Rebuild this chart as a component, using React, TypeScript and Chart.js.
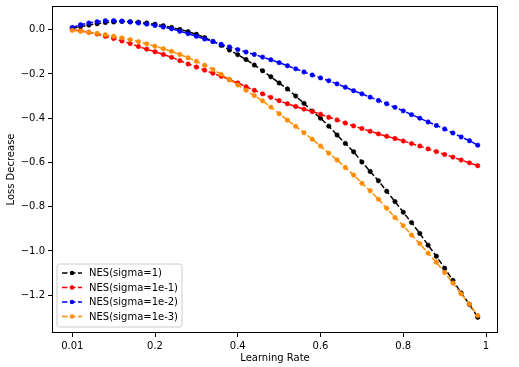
import React, { useEffect, useRef } from 'react';
import { Chart, registerables } from 'chart.js';

Chart.register(...registerables);

const learningRates = [
  0.0, 0.02, 0.04, 0.06, 0.08, 0.1, 0.12, 0.14, 0.16, 0.18,
  0.2, 0.22, 0.24, 0.26, 0.28, 0.3, 0.32, 0.34, 0.36, 0.38,
  0.4, 0.42, 0.44, 0.46, 0.48, 0.5, 0.52, 0.54, 0.56, 0.58,
  0.6, 0.62, 0.64, 0.66, 0.68, 0.7, 0.72, 0.74, 0.76, 0.78,
  0.8, 0.82, 0.84, 0.86, 0.88, 0.9, 0.92, 0.94, 0.96, 0.98,
];

const nesSigma1 = [
  0.006, 0.014, 0.021, 0.027, 0.032, 0.035, 0.037, 0.036, 0.034, 0.030,
  0.025, 0.018, 0.010, 0.001, -0.009, -0.021, -0.036, -0.053, -0.071, -0.092,
  -0.113, -0.135, -0.160, -0.186, -0.213, -0.241, -0.268, -0.300, -0.333, -0.368,
  -0.400, -0.436, -0.476, -0.514, -0.552, -0.598, -0.641, -0.683, -0.730, -0.777,
  -0.825, -0.872, -0.921, -0.974, -1.024, -1.078, -1.133, -1.190, -1.242, -1.300,
];

const nesSigma1em1 = [
  0.000, -0.005, -0.012, -0.020, -0.030, -0.040, -0.051, -0.063, -0.076, -0.088,
  -0.100, -0.112, -0.125, -0.140, -0.155, -0.169, -0.183, -0.197, -0.211, -0.226,
  -0.241, -0.258, -0.274, -0.290, -0.306, -0.321, -0.335, -0.347, -0.359, -0.370,
  -0.382, -0.396, -0.408, -0.422, -0.435, -0.447, -0.459, -0.471, -0.482, -0.492,
  -0.503, -0.515, -0.526, -0.539, -0.551, -0.564, -0.576, -0.589, -0.602, -0.615,
];

const nesSigma1em2 = [
  0.010, 0.022, 0.030, 0.036, 0.040, 0.041, 0.039, 0.035, 0.030, 0.025,
  0.019, 0.012, 0.004, -0.007, -0.018, -0.030, -0.042, -0.054, -0.066, -0.078,
  -0.090, -0.101, -0.112, -0.124, -0.136, -0.149, -0.163, -0.177, -0.191, -0.205,
  -0.218, -0.231, -0.245, -0.260, -0.276, -0.290, -0.305, -0.320, -0.335, -0.351,
  -0.367, -0.384, -0.400, -0.417, -0.433, -0.449, -0.467, -0.485, -0.502, -0.522,
];

const nesSigma1em3 = [
  -0.003, -0.007, -0.012, -0.017, -0.023, -0.030, -0.037, -0.045, -0.054, -0.064,
  -0.075, -0.086, -0.098, -0.112, -0.127, -0.143, -0.161, -0.180, -0.202, -0.226,
  -0.250, -0.274, -0.298, -0.322, -0.350, -0.380, -0.409, -0.437, -0.466, -0.495,
  -0.526, -0.558, -0.589, -0.623, -0.657, -0.694, -0.728, -0.766, -0.807, -0.849,
  -0.886, -0.928, -0.967, -1.010, -1.051, -1.098, -1.145, -1.194, -1.241, -1.292,
];

const seriesLabels = ['NES(sigma=1)', 'NES(sigma=1e-1)', 'NES(sigma=1e-2)', 'NES(sigma=1e-3)'];
const seriesValues = [nesSigma1, nesSigma1em1, nesSigma1em2, nesSigma1em3];
const seriesColors = ['#000000', '#ff0000', '#0000ff', '#ff8c00'];

const xTickValues = [0, 0.2, 0.4, 0.6, 0.8, 1.0];
const xTickLabels = ['0.01', '0.2', '0.4', '0.6', '0.8', '1'];
const yTickValues = [0, -0.2, -0.4, -0.6, -0.8, -1.0, -1.2];

const FONT = "'DejaVu Sans', sans-serif";
const DASH = [5.55, 2.4];

const framePlugin = {
  id: 'mplFrame',
  afterDraw(chart: any) {
    const { ctx, chartArea } = chart;
    const l = Math.round(chartArea.left) + 0.5;
    const t = Math.round(chartArea.top) + 0.5;
    const r = Math.round(chartArea.right) - 0.5;
    const b = Math.round(chartArea.bottom) - 0.5;
    ctx.save();
    ctx.strokeStyle = '#000';
    ctx.lineWidth = 1;
    ctx.setLineDash([]);
    ctx.strokeRect(l, t, r - l, b - t);
    ctx.restore();
  },
};

const legendPlugin = {
  id: 'mplLegend',
  afterDraw(chart: any) {
    const { ctx, chartArea } = chart;
    const x0 = chartArea.left + 5;
    const w = 125;
    const h = 63;
    const y0 = chartArea.bottom - 6 - h;
    ctx.save();
    ctx.beginPath();
    const rad = 2.5;
    ctx.moveTo(x0 + rad, y0);
    ctx.lineTo(x0 + w - rad, y0);
    ctx.quadraticCurveTo(x0 + w, y0, x0 + w, y0 + rad);
    ctx.lineTo(x0 + w, y0 + h - rad);
    ctx.quadraticCurveTo(x0 + w, y0 + h, x0 + w - rad, y0 + h);
    ctx.lineTo(x0 + rad, y0 + h);
    ctx.quadraticCurveTo(x0, y0 + h, x0, y0 + h - rad);
    ctx.lineTo(x0, y0 + rad);
    ctx.quadraticCurveTo(x0, y0, x0 + rad, y0);
    ctx.closePath();
    ctx.fillStyle = 'rgba(255,255,255,0.8)';
    ctx.fill();
    ctx.strokeStyle = '#cccccc';
    ctx.lineWidth = 1;
    ctx.stroke();

    ctx.font = `10px ${FONT}`;
    ctx.textBaseline = 'middle';
    ctx.textAlign = 'left';
    seriesLabels.forEach((label, i) => {
      const cy = y0 + 9 + i * 14.5;
      const color = seriesColors[i];
      ctx.strokeStyle = color;
      ctx.lineWidth = 1.5;
      ctx.setLineDash(DASH);
      ctx.beginPath();
      ctx.moveTo(x0 + 5, cy);
      ctx.lineTo(x0 + 25, cy);
      ctx.stroke();
      ctx.setLineDash([]);
      ctx.fillStyle = color;
      ctx.beginPath();
      ctx.arc(x0 + 15, cy, 2.2, 0, Math.PI * 2);
      ctx.fill();
      ctx.fillStyle = '#000';
      ctx.fillText(label, x0 + 32, cy + 0.5);
    });
    ctx.restore();
  },
};

export default function App() {
  const canvasRef = useRef<HTMLCanvasElement | null>(null);

  useEffect(() => {
    if (!canvasRef.current) return;
    Chart.defaults.font.family = FONT;
    const datasets = seriesLabels.map((label, i) => ({
      label,
      data: learningRates.map((x, j) => ({ x, y: seriesValues[i][j] })),
      borderColor: seriesColors[i],
      backgroundColor: seriesColors[i],
      pointBackgroundColor: seriesColors[i],
      pointBorderColor: seriesColors[i],
      pointBorderWidth: 0.6,
      pointRadius: 2.2,
      borderWidth: 1.5,
      borderDash: DASH,
      tension: 0,
      fill: false,
      order: seriesLabels.length - i,
    }));

    const chart = new Chart(canvasRef.current, {
      type: 'line',
      data: { datasets },
      plugins: [framePlugin, legendPlugin],
      options: {
        animation: false,
        responsive: false,
        maintainAspectRatio: false,
        devicePixelRatio: 1,
        layout: { padding: { left: 0, right: 21, top: 6, bottom: 0 } },
        plugins: {
          legend: { display: false },
          tooltip: { enabled: false },
        },
        scales: {
          x: {
            type: 'linear',
            min: -0.049,
            max: 1.029,
            afterBuildTicks: (s: any) => {
              s.ticks = xTickValues.map((v) => ({ value: v }));
            },
            afterFit: (s: any) => {
              s.height = 34;
              s.paddingLeft = 0;
              s.paddingRight = 0;
            },
            ticks: {
              autoSkip: false,
              maxRotation: 0,
              padding: 3,
              color: '#000',
              font: { size: 10, family: FONT },
              callback: (v: any) => {
                const idx = xTickValues.findIndex((t) => Math.abs(t - Number(v)) < 1e-9);
                return idx >= 0 ? xTickLabels[idx] : '';
              },
            },
            grid: {
              drawOnChartArea: false,
              drawTicks: true,
              tickLength: 4,
              color: '#000',
              lineWidth: 1,
            },
            border: { display: false },
            title: {
              display: true,
              text: 'Learning Rate',
              color: '#000',
              font: { size: 10, family: FONT },
              padding: { top: 0, bottom: 3 },
            },
          },
          y: {
            type: 'linear',
            min: -1.371,
            max: 0.107,
            afterBuildTicks: (s: any) => {
              s.ticks = yTickValues.map((v) => ({ value: v }));
            },
            afterFit: (s: any) => {
              s.width = 52;
              s.paddingTop = 0;
              s.paddingBottom = 0;
            },
            ticks: {
              autoSkip: false,
              padding: 3,
              color: '#000',
              font: { size: 10, family: FONT },
              callback: (v: any) => {
                const n = Number(v);
                if (Math.abs(n) < 1e-9) return '0.0';
                return (n < 0 ? '\u2212' : '') + Math.abs(n).toFixed(1);
              },
            },
            grid: {
              drawOnChartArea: false,
              drawTicks: true,
              tickLength: 4,
              color: '#000',
              lineWidth: 1,
            },
            border: { display: false },
            title: {
              display: true,
              text: 'Loss Decrease',
              color: '#000',
              font: { size: 10, family: FONT },
              padding: { top: 5, bottom: 0 },
            },
          },
        },
      },
    });
    return () => chart.destroy();
  }, []);

  return (
    <div style={{ position: 'fixed', left: 0, top: 0, width: 519, height: 367, background: '#fff' }}>
      <canvas ref={canvasRef} width={519} height={367} style={{ display: 'block', width: 519, height: 367 }} />
    </div>
  );
}
